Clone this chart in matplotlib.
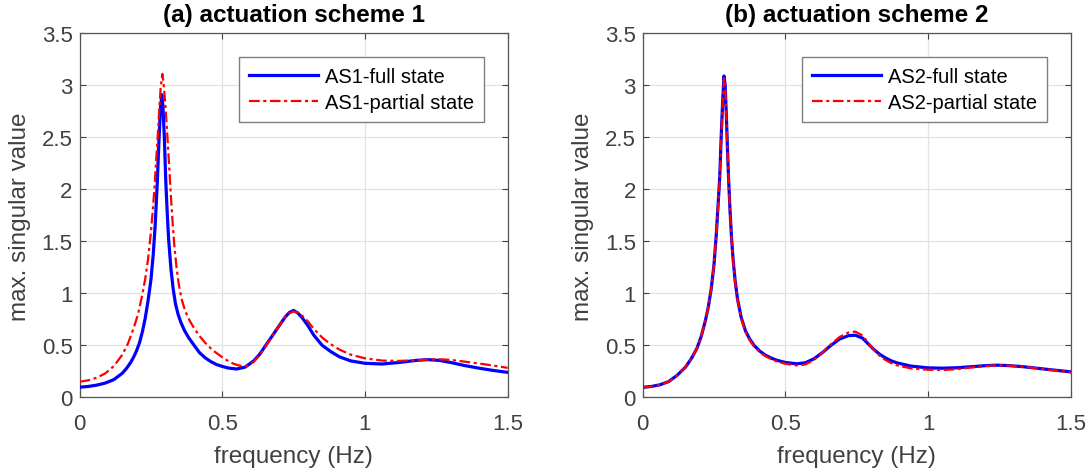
import matplotlib
matplotlib.use("Agg")
import matplotlib.pyplot as plt

plt.rcParams['font.family'] = ['Liberation Sans', 'DejaVu Sans']

# ---- data: max. singular value vs frequency (Hz) ----
as1_full_f = [0, 0.03, 0.06, 0.09, 0.12, 0.15, 0.165, 0.18, 0.19, 0.20, 0.21, 0.22, 0.23, 0.24,
              0.25, 0.258, 0.265, 0.272, 0.278, 0.283, 0.288, 0.292, 0.297, 0.302, 0.307,
              0.312, 0.32, 0.328, 0.336, 0.345, 0.355, 0.368, 0.383, 0.40, 0.42, 0.44, 0.46,
              0.48, 0.50, 0.52, 0.55, 0.58, 0.61, 0.63, 0.67, 0.70, 0.72, 0.735, 0.75, 0.765,
              0.78, 0.80, 0.82, 0.85, 0.88, 0.91, 0.95, 1.00, 1.06, 1.12, 1.18, 1.22,
              1.26, 1.30, 1.35, 1.40, 1.45, 1.50]
as1_full_v = [0.097, 0.104, 0.117, 0.137, 0.17, 0.232, 0.28, 0.34, 0.39, 0.45, 0.525, 0.63, 0.76, 0.93,
              1.13, 1.37, 1.66, 2.05, 2.46, 2.76, 2.91, 2.80, 2.50, 2.08, 1.78,
              1.52, 1.24, 1.04, 0.90, 0.80, 0.72, 0.64, 0.57, 0.505, 0.43, 0.38, 0.343,
              0.315, 0.297, 0.282, 0.272, 0.29, 0.35, 0.41, 0.57, 0.69, 0.77, 0.815, 0.835, 0.81,
              0.765, 0.69, 0.60, 0.50, 0.44, 0.39, 0.35, 0.327, 0.32, 0.335, 0.355, 0.362,
              0.355, 0.335, 0.305, 0.28, 0.258, 0.24]

as1_part_f = [0, 0.03, 0.06, 0.09, 0.12, 0.15, 0.17, 0.19, 0.205, 0.22, 0.23, 0.24, 0.25,
              0.256, 0.262, 0.268, 0.274, 0.279, 0.284, 0.29, 0.295, 0.30, 0.305, 0.309,
              0.315, 0.32, 0.326, 0.332, 0.34, 0.348, 0.358, 0.37, 0.385, 0.40, 0.42, 0.44,
              0.46, 0.48, 0.50, 0.52, 0.54, 0.56, 0.575, 0.59, 0.61, 0.63, 0.65, 0.68, 0.70,
              0.72, 0.735, 0.75, 0.765, 0.78, 0.80, 0.82, 0.85, 0.88, 0.91, 0.95, 1.00,
              1.06, 1.12, 1.18, 1.22, 1.26, 1.30, 1.35, 1.40, 1.45, 1.50]
as1_part_v = [0.15, 0.163, 0.188, 0.23, 0.30, 0.41, 0.52, 0.67, 0.80, 0.99, 1.14, 1.33, 1.59,
              1.78, 2.00, 2.26, 2.52, 2.76, 2.97, 3.11, 3.00, 2.83, 2.63, 2.45,
              2.17, 1.93, 1.68, 1.46, 1.24, 1.08, 0.94, 0.83, 0.74, 0.67, 0.59, 0.525,
              0.47, 0.425, 0.385, 0.35, 0.322, 0.305, 0.298, 0.305, 0.34, 0.405, 0.48, 0.61, 0.69,
              0.77, 0.808, 0.826, 0.815, 0.785, 0.73, 0.66, 0.575, 0.51, 0.46, 0.41, 0.375,
              0.353, 0.35, 0.356, 0.362, 0.366, 0.36, 0.343, 0.325, 0.305, 0.283]

as2_f = [0, 0.03, 0.06, 0.09, 0.12, 0.15, 0.17, 0.19, 0.205, 0.22, 0.23, 0.24, 0.25,
         0.258, 0.264, 0.27, 0.275, 0.28, 0.285, 0.289, 0.293, 0.297, 0.301, 0.306,
         0.311, 0.317, 0.324, 0.332, 0.345, 0.36, 0.375, 0.39, 0.41, 0.43, 0.45, 0.47,
         0.50, 0.54, 0.57, 0.60, 0.63, 0.66, 0.69, 0.72, 0.745, 0.77, 0.79, 0.81, 0.83,
         0.85, 0.87, 0.89, 0.94, 1.00, 1.05, 1.10, 1.15, 1.20, 1.24, 1.28, 1.33, 1.38,
         1.44, 1.50]
as2_full_v = [0.096, 0.104, 0.12, 0.15, 0.21, 0.29, 0.37, 0.47, 0.585, 0.74, 0.87, 1.04, 1.28,
              1.57, 1.84, 2.12, 2.5, 2.83, 3.09, 3.0, 2.72, 2.4, 2.1, 1.8,
              1.55, 1.32, 1.12, 0.95, 0.77, 0.64, 0.56, 0.50, 0.445, 0.405, 0.378, 0.356,
              0.335, 0.322, 0.332, 0.37, 0.43, 0.50, 0.56, 0.592, 0.597, 0.57, 0.515, 0.46, 0.415,
              0.38, 0.352, 0.332, 0.30, 0.283, 0.28, 0.284, 0.294, 0.304, 0.309, 0.305, 0.295, 0.28,
              0.262, 0.245]
as2_part_v = [0.094, 0.103, 0.119, 0.149, 0.208, 0.288, 0.368, 0.468, 0.583, 0.738, 0.868, 1.04, 1.28,
              1.56, 1.83, 2.11, 2.48, 2.81, 3.07, 2.99, 2.71, 2.39, 2.09, 1.79,
              1.54, 1.31, 1.11, 0.94, 0.76, 0.63, 0.55, 0.49, 0.435, 0.395, 0.368, 0.345,
              0.322, 0.306, 0.316, 0.358, 0.43, 0.51, 0.58, 0.622, 0.632, 0.595, 0.525, 0.455, 0.40,
              0.36, 0.33, 0.308, 0.278, 0.265, 0.262, 0.27, 0.286, 0.30, 0.308, 0.305, 0.295, 0.28,
              0.26, 0.24]

x_ticks = [0, 0.5, 1, 1.5]
x_tick_labels = ["0", "0.5", "1", "1.5"]
y_ticks = [0, 0.5, 1, 1.5, 2, 2.5, 3, 3.5]
y_tick_labels = ["0", "0.5", "1", "1.5", "2", "2.5", "3", "3.5"]

panels = [
    ("(a) actuation scheme 1", "AS1-full state", "AS1-partial state",
     as1_full_f, as1_full_v, as1_part_f, as1_part_v),
    ("(b) actuation scheme 2", "AS2-full state", "AS2-partial state",
     as2_f, as2_full_v, as2_f, as2_part_v),
]

W, H = 1091, 477
fig = plt.figure(figsize=(W / 100, H / 100), dpi=100)
ax_left_px = [79.6, 642.7]
axes_w, axes_h = 428, 364
axes_bottom = (H - 398.3) / H

axis_gray = '#404040'
for i, (title, lab_full, lab_part, ff, fv, pf, pv) in enumerate(panels):
    ax = fig.add_axes([ax_left_px[i] / W, axes_bottom, axes_w / W, axes_h / H])
    ax.plot(ff, fv, color=(0, 0, 1), lw=2.3, solid_joinstyle='round', label=lab_full, zorder=3)
    ax.plot(pf, pv, color=(1, 0, 0), lw=1.6, dashes=(4.8, 1.6, 1.4, 1.6),
            label=lab_part, zorder=4)
    ax.set_xlim(0, 1.5)
    ax.set_ylim(0, 3.5)
    ax.set_xticks(x_ticks)
    ax.set_xticklabels(x_tick_labels)
    ax.set_yticks(y_ticks)
    ax.set_yticklabels(y_tick_labels)
    ax.grid(True, color='#e3e3e3', lw=0.9)
    ax.set_axisbelow(True)
    ax.tick_params(direction='in', length=4, width=0.8, top=True, right=True,
                   labelsize=16, colors=axis_gray)
    ax.tick_params(axis='x', pad=11)
    ax.tick_params(axis='y', pad=5)
    for sp in ax.spines.values():
        sp.set_color('#555555')
        sp.set_linewidth(0.9)
    ax.set_xlabel("frequency (Hz)", fontsize=17.5, color=axis_gray, labelpad=8)
    ax.set_ylabel("max. singular value", fontsize=17.5, color=axis_gray, labelpad=7.5)
    ax.set_title(title, fontsize=17.5, fontweight='bold', color='black', pad=9)
    leg = ax.legend(loc='upper right', bbox_to_anchor=(0.945, 0.935), borderaxespad=0,
                    fontsize=14.5, handlelength=3.4, handletextpad=0.35,
                    borderpad=0.5, labelspacing=0.35, fancybox=False, framealpha=1)
    leg.get_frame().set_edgecolor('#7f7f7f')
    leg.get_frame().set_linewidth(1.0)
    for t in leg.get_texts():
        t.set_color('black')

fig.savefig("out.png", dpi=100)
